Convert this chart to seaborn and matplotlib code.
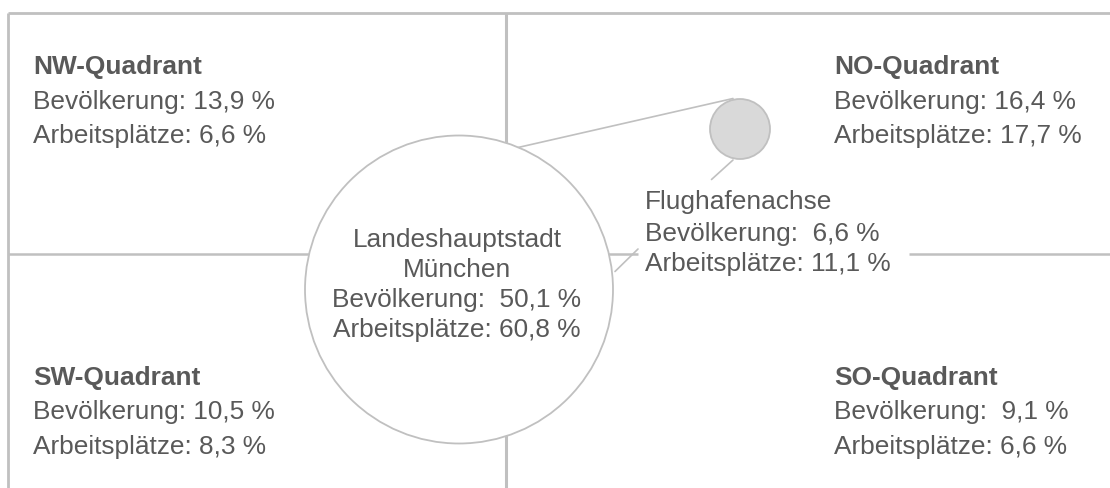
import matplotlib
matplotlib.use("Agg")
import matplotlib.pyplot as plt
from matplotlib.patches import Circle
import seaborn as sns
import pandas as pd

# ---- data ----
regions = ["NW-Quadrant", "NO-Quadrant", "SW-Quadrant", "SO-Quadrant",
           "Landeshauptstadt\nMünchen", "Flughafenachse"]
bevoelkerung = [13.9, 16.4, 10.5, 9.1, 50.1, 6.6]
arbeitsplaetze = [6.6, 17.7, 8.3, 6.6, 60.8, 11.1]
bev_pad = [False, False, False, True, True, True]

df = pd.DataFrame({"region": regions, "bev": bevoelkerung,
                   "arb": arbeitsplaetze, "pad": bev_pad})

def fmt(v):
    return f"{v:.1f}".replace(".", ",")

sns.set_theme(style="white")
plt.rcParams["font.family"] = ["Liberation Sans", "DejaVu Sans"]

TXT = "#595959"
LINE = "#c0c0c0"
FS = 18.9

fig = plt.figure(figsize=(11.1, 4.88), dpi=100)
ax = fig.add_axes([0, 0, 1, 1])
ax.set_xlim(0, 1110)
ax.set_ylim(488, 0)
ax.axis("off")

# frame and dividers
ax.plot([7.5, 1110], [13, 13], color=LINE, lw=2.0, solid_capstyle="butt")
ax.plot([7.5, 7.5], [13, 488], color=LINE, lw=2.0, solid_capstyle="butt")
ax.plot([505.5, 505.5], [13, 488], color=LINE, lw=2.2, solid_capstyle="butt")
ax.plot([7.5, 459], [254, 254], color=LINE, lw=1.8, solid_capstyle="butt")
ax.plot([459, 638], [254, 254], color=LINE, lw=1.8, solid_capstyle="butt")
ax.plot([909, 1110], [254, 254], color=LINE, lw=1.8, solid_capstyle="butt")

# connection lines to airport circle
ax.plot([518, 733], [147.5, 98.5], color=LINE, lw=1.2)
ax.plot([733, 711.5], [160, 179.5], color=LINE, lw=1.2)
ax.plot([615, 638], [271.5, 249], color=LINE, lw=1.2)

# circles
ax.add_patch(Circle((459, 289.5), 154, facecolor="white", edgecolor=LINE,
                    lw=1.3, zorder=3))
ax.add_patch(Circle((740, 129), 30, facecolor="#d9d9d9", edgecolor=LINE,
                    lw=1.3, zorder=3))

def lines_for(row):
    sp = "  " if row.pad else " "
    return (f"Bevölkerung:{sp}{fmt(row.bev)} %",
            f"Arbeitsplätze: {fmt(row.arb)} %")

# quadrant blocks
quad_pos = {"NW-Quadrant": (33, [74, 108.5, 143.5]),
            "NO-Quadrant": (834, [74, 108.5, 143.5]),
            "SW-Quadrant": (33, [384.5, 419.5, 454]),
            "SO-Quadrant": (834, [384.5, 419.5, 454])}
for row in df.itertuples():
    if row.region in quad_pos:
        x, ys = quad_pos[row.region]
        b, a = lines_for(row)
        ax.text(x, ys[0], row.region, fontsize=FS, fontweight="bold",
                color=TXT, va="baseline", ha="left")
        ax.text(x, ys[1], b, fontsize=FS, color=TXT, va="baseline", ha="left")
        ax.text(x, ys[2], a, fontsize=FS, color=TXT, va="baseline", ha="left")

# city
city = df.iloc[4]
b, a = lines_for(city)
t1, t2 = city.region.split("\n")
for txt, y in zip([t1, t2, b, a], [247, 277, 307, 337]):
    ax.text(457, y, txt, fontsize=FS, color=TXT, va="baseline", ha="center",
            zorder=4)

# airport axis
air = df.iloc[5]
b, a = lines_for(air)
for txt, y in zip([air.region, b, a], [209.5, 240.5, 270.5]):
    ax.text(645, y, txt, fontsize=FS, color=TXT, va="baseline", ha="left",
            zorder=4)

fig.savefig("out.png", dpi=100)
